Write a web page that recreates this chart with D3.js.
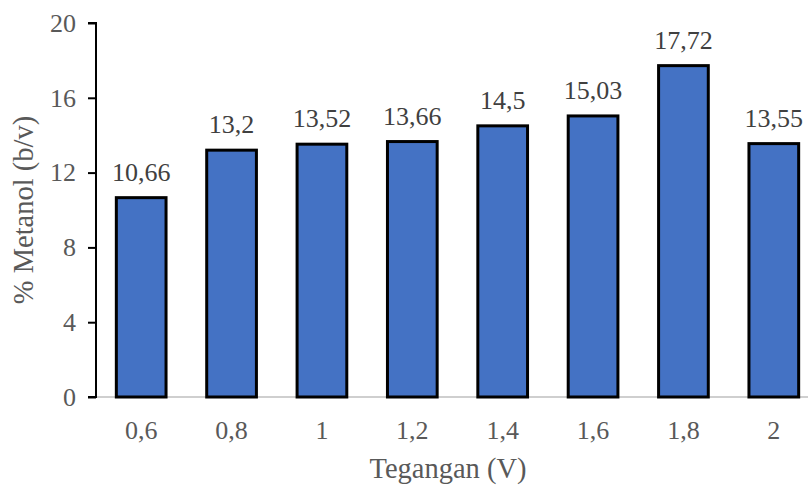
<!DOCTYPE html>
<html><head><meta charset="utf-8">
<script src="https://cdn.jsdelivr.net/npm/d3@7"></script>
<style>html,body{margin:0;padding:0;background:#fff;overflow:hidden}</style>
</head><body><svg id="c" width="808" height="485"></svg>
<script>
const categories = ["0,6","0,8","1","1,2","1,4","1,6","1,8","2"];
const values = [10.66, 13.2, 13.52, 13.66, 14.5, 15.03, 17.72, 13.55];
const valueLabels = ["10,66","13,2","13,52","13,66","14,5","15,03","17,72","13,55"];
const yTicks = [0,4,8,12,16,20];

(function(){
const svg = d3.select("#c");
const font = "'Liberation Serif','Times New Roman',serif";
const mL = 96, mR = 819, mT = 23, mB = 397;
const x = d3.scaleBand().domain(categories).range([mL, mR]).paddingInner(0.45).paddingOuter(0.225);
const y = d3.scaleLinear().domain([0,20]).range([mB, mT]);

svg.append("line").attr("x1", mL).attr("x2", 808).attr("y1", y(0)).attr("y2", y(0))
  .attr("stroke", "#bfbfbf").attr("stroke-width", 1.5);

svg.selectAll("rect.bar").data(values).join("rect").attr("class","bar")
  .attr("x", (d,i) => x(categories[i]))
  .attr("width", x.bandwidth())
  .attr("y", d => y(d))
  .attr("height", d => y(0) - y(d))
  .attr("fill", "#4472C4").attr("stroke", "#000").attr("stroke-width", 3);

const yAxis = d3.axisLeft(y).tickValues(yTicks).tickSize(8).tickPadding(12).tickFormat(d3.format("d"));
const ga = svg.append("g").attr("transform", `translate(${mL},0)`).call(yAxis);
ga.select(".domain").attr("stroke", "#000").attr("stroke-width", 2).attr("d", `M-8,${mT}H0V${mB}H-8`);
ga.selectAll(".tick line").attr("stroke", "#000").attr("stroke-width", 2);
ga.selectAll(".tick text").attr("fill", "#595959").style("font-family", font).style("font-size", "26px");

const xAxis = d3.axisBottom(x).tickSize(0).tickPadding(24);
const gx = svg.append("g").attr("transform", `translate(0,${mB})`).call(xAxis);
gx.select(".domain").remove();
gx.selectAll(".tick text").attr("fill", "#595959").style("font-family", font).style("font-size", "26px");

svg.selectAll("text.vl").data(values).join("text").attr("class","vl")
  .attr("x", (d,i) => x(categories[i]) + x.bandwidth()/2)
  .attr("y", d => y(d) - 17)
  .attr("text-anchor", "middle").attr("fill", "#404040")
  .style("font-family", font).style("font-size", "26px")
  .text((d,i) => valueLabels[i]);

svg.append("text").attr("x", 448).attr("y", 478).attr("text-anchor","middle")
  .attr("fill","#595959").style("font-family", font).style("font-size","28.5px").text("Tegangan (V)");
svg.append("text").attr("transform","translate(33,210) rotate(-90)").attr("text-anchor","middle")
  .attr("fill","#595959").style("font-family", font).style("font-size","28.5px").text("% Metanol (b/v)");
})();
</script></body></html>
